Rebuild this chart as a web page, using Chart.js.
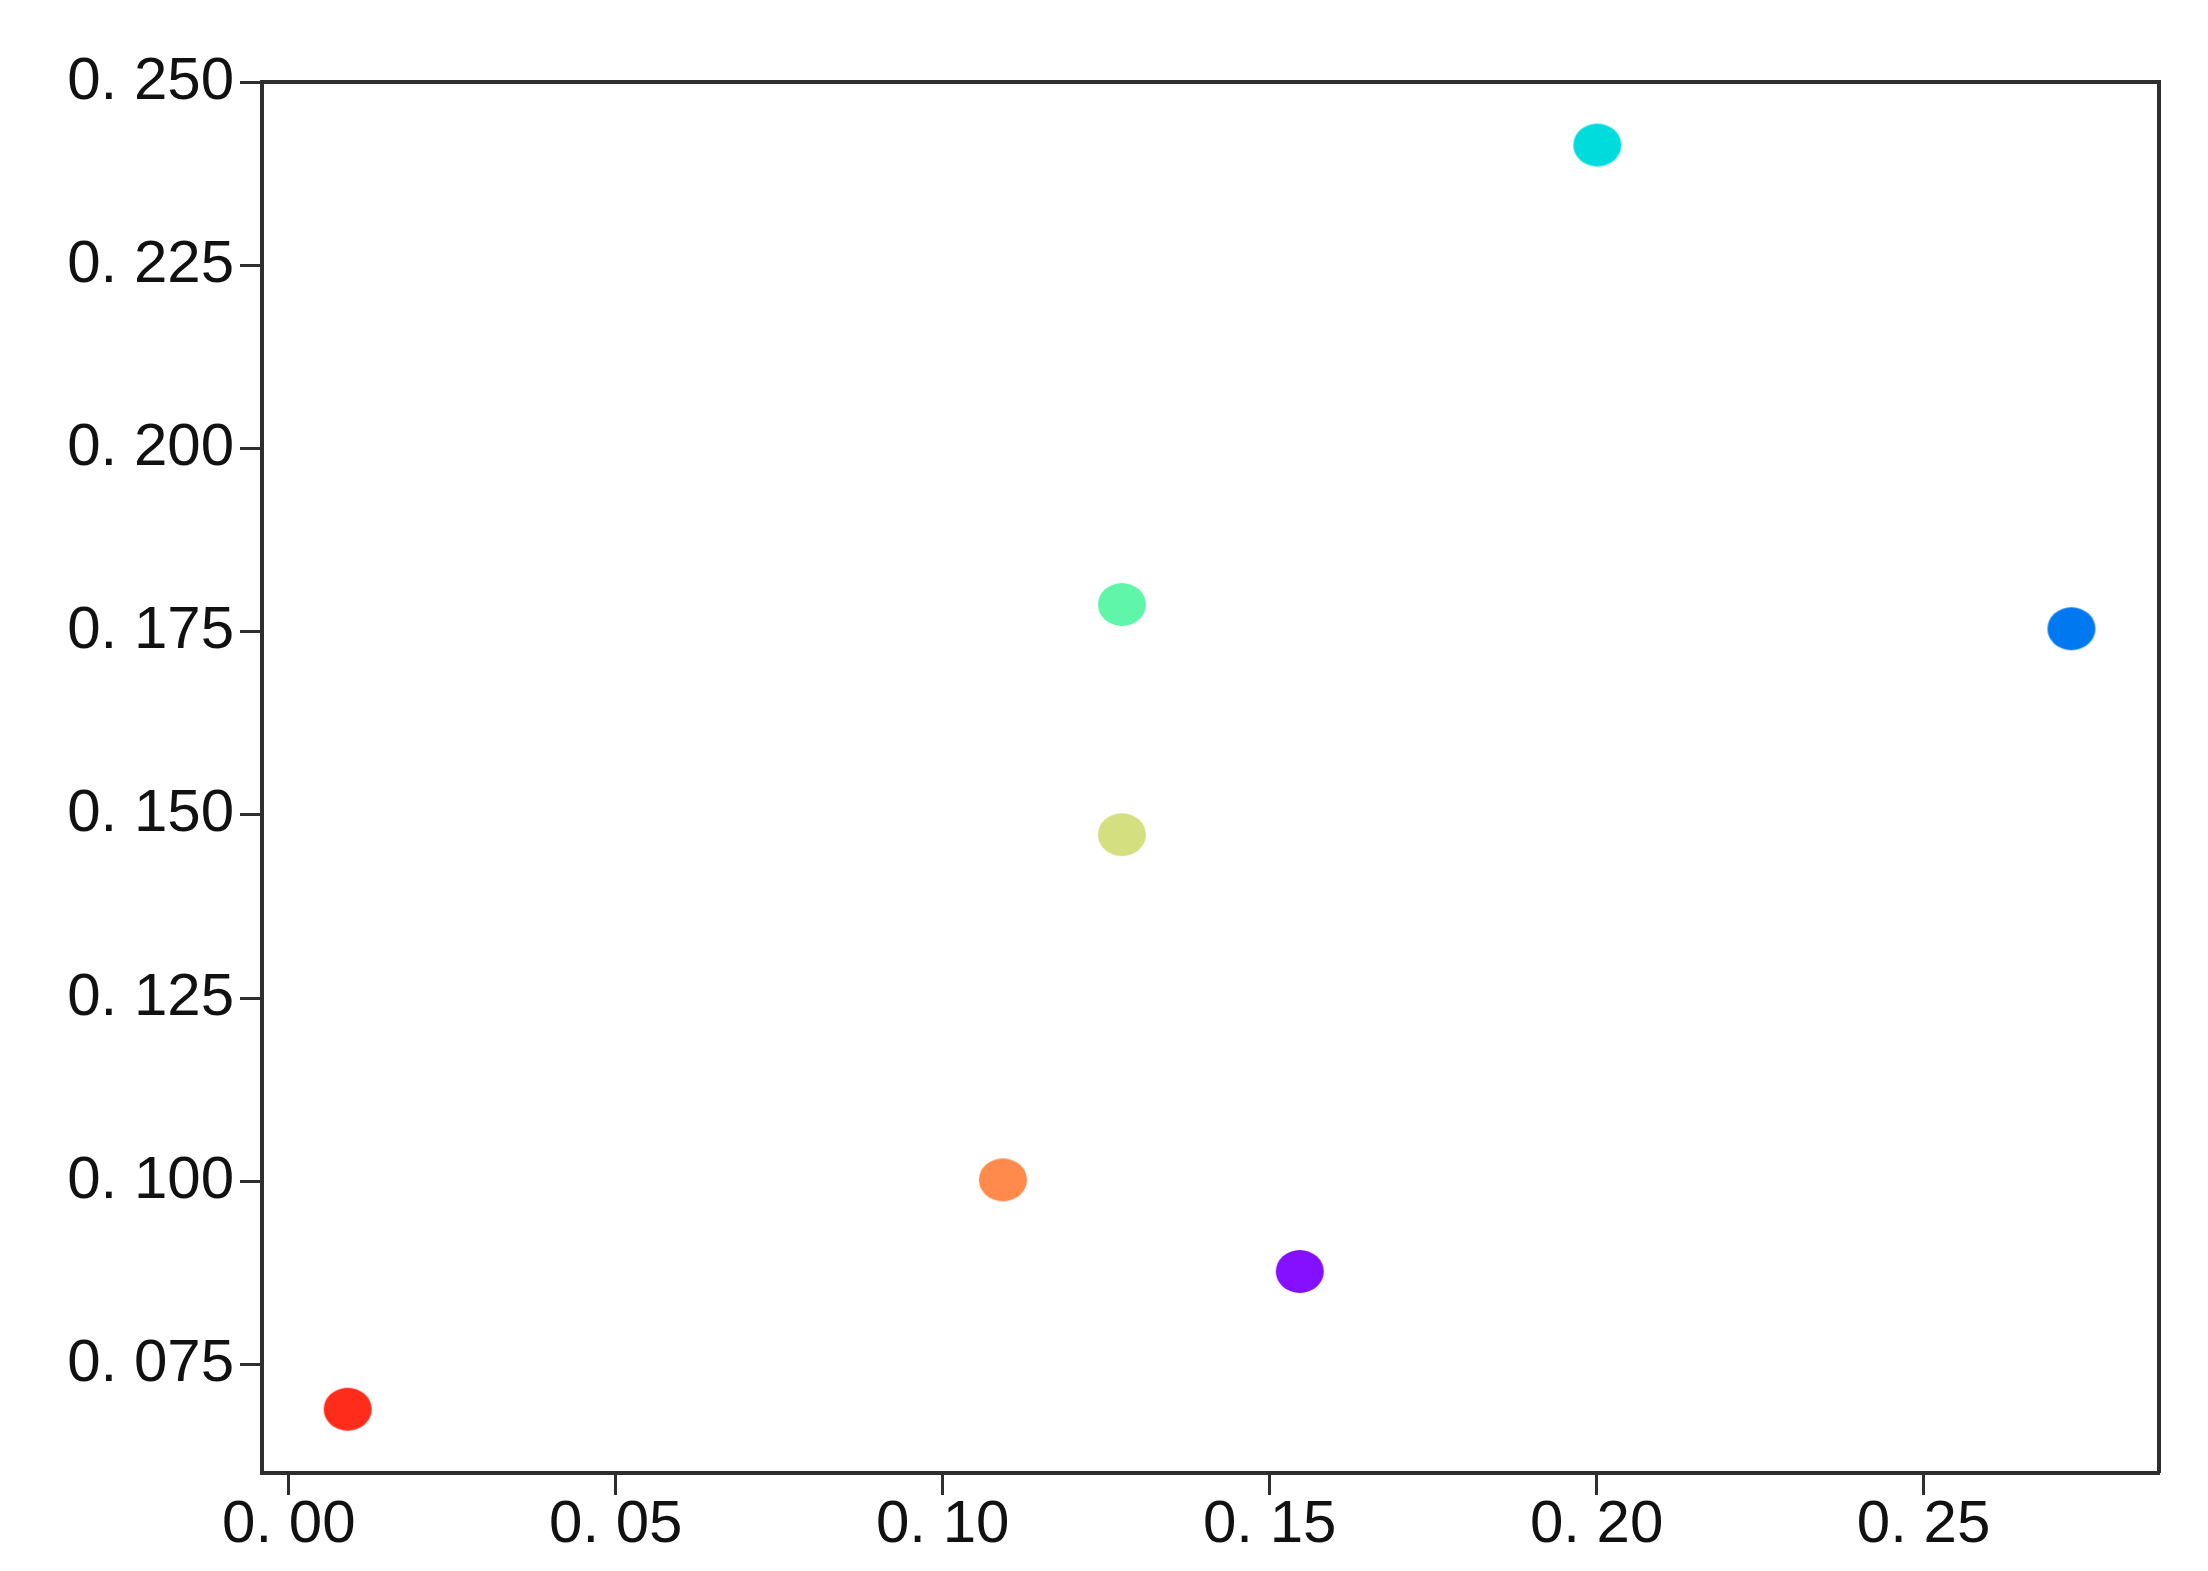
<!DOCTYPE html>
<html>
<head>
<meta charset="utf-8">
<script src="https://cdn.jsdelivr.net/npm/chart.js@4"></script>
<style>
  html, body { margin: 0; padding: 0; background: #fff; }
  #wrap { width: 2208px; height: 1571px; }
</style>
</head>
<body>
<div id="wrap"><canvas id="chartScatter"></canvas></div>
<script>
var xValues = [0.0090, 0.1092, 0.1546, 0.1274, 0.1274, 0.2001, 0.2726];
var yValues = [0.0689, 0.1002, 0.0877, 0.1473, 0.1787, 0.2414, 0.1754];
var pointColors = ['#ff2c1c', '#ff8a4c', '#8410ff', '#d4df80', '#5ff6aa', '#00dcdc', '#0079f0'];
var xTicks = [0.00, 0.05, 0.10, 0.15, 0.20, 0.25];
var yTicks = [0.075, 0.100, 0.125, 0.150, 0.175, 0.200, 0.225, 0.250];

var axisColor = '#2e2e2e';
var tickFont = { family: '"Liberation Sans", Arial, sans-serif', size: 60 };

function ellipseDot(color) {
  var c = document.createElement('canvas');
  c.width = 50;
  c.height = 45;
  var ctx = c.getContext('2d');
  ctx.fillStyle = color;
  ctx.beginPath();
  ctx.ellipse(25, 22.5, 24, 21.5, 0, 0, Math.PI * 2);
  ctx.fill();
  return c;
}

var points = xValues.map(function (x, i) {
  return { x: x, y: yValues[i] };
});

// box around the plot area (top and right sides)
var frameBox = {
  id: 'frameBox',
  afterDraw: function (chart) {
    var a = chart.chartArea;
    var ctx = chart.ctx;
    ctx.save();
    ctx.strokeStyle = axisColor;
    ctx.lineWidth = 4;
    ctx.beginPath();
    ctx.moveTo(a.left, a.top);
    ctx.lineTo(a.right, a.top);
    ctx.lineTo(a.right, a.bottom);
    ctx.stroke();
    ctx.restore();
  }
};

function renderScatterChart() {
  var el = document.getElementById('chartScatter');
  if (el) {
    new Chart(el, {
      type: 'scatter',
      data: {
        datasets: [{
          data: points,
          pointStyle: pointColors.map(ellipseDot),
          pointBackgroundColor: pointColors,
          pointBorderWidth: 0
        }]
      },
      options: {
        responsive: true,
        maintainAspectRatio: false,
        animation: false,
        layout: {
          padding: { top: 82, right: 49, bottom: 0, left: 0 }
        },
        plugins: {
          legend: { display: false },
          tooltip: { enabled: false }
        },
        scales: {
          x: {
            type: 'linear',
            min: -0.0041,
            max: 0.286,
            afterBuildTicks: function (scale) {
              scale.ticks = xTicks.map(function (v) { return { value: v }; });
            },
            afterFit: function (scale) {
              scale.height = 98;
            },
            border: { display: true, color: axisColor, width: 4 },
            grid: {
              drawOnChartArea: false,
              drawTicks: true,
              tickLength: 22,
              tickWidth: 3,
              tickColor: axisColor
            },
            ticks: {
              color: '#111',
              font: tickFont,
              padding: -6,
              maxRotation: 0,
              callback: function (v) {
                return v.toFixed(2).replace('.', '. ');
              }
            }
          },
          y: {
            type: 'linear',
            min: 0.0602,
            max: 0.250,
            afterBuildTicks: function (scale) {
              scale.ticks = yTicks.map(function (v) { return { value: v }; });
            },
            afterFit: function (scale) {
              scale.width = 262;
            },
            border: { display: true, color: axisColor, width: 4 },
            grid: {
              drawOnChartArea: false,
              drawTicks: true,
              tickLength: 22,
              tickWidth: 3,
              tickColor: axisColor
            },
            ticks: {
              color: '#111',
              font: tickFont,
              padding: 6,
              callback: function (v) {
                return v.toFixed(3).replace('.', '. ');
              }
            }
          }
        }
      },
      plugins: [frameBox]
    });
  }
}

renderScatterChart();
</script>
</body>
</html>
